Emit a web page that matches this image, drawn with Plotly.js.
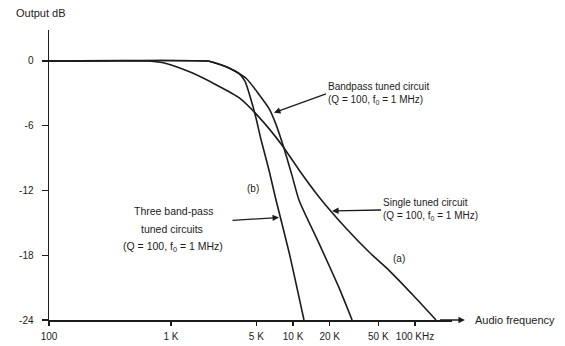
<!DOCTYPE html>
<html>
<head>
<meta charset="utf-8">
<script src="https://cdn.plot.ly/plotly-3.0.1.min.js"></script>
<style>
  html, body { margin: 0; padding: 0; background: #fff; }
  #chart { width: 565px; height: 346px; }
</style>
</head>
<body>
<div id="chart"></div>
<script>
// ---- data (frequency in Hz, output in dB) ----
const singleFreq = [100, 660, 844, 1120, 1486, 2337, 3606, 5260, 8130, 11200, 16330, 27200, 42000, 61200, 98200, 148600];
const singleDb   = [0, 0, -0.15, -0.55, -1.1, -2.2, -3.4, -5.2, -7.8, -10.1, -12.6, -15.5, -17.7, -19.4, -21.8, -24];

const bandpassFreq = [100, 2000, 2168, 2985, 4120, 5260, 6350, 7260, 8440, 9810, 11200, 16330, 23800, 30500];
const bandpassDb   = [0, 0, -0.1, -0.65, -1.6, -3.1, -4.4, -5.9, -8.1, -10.6, -12.9, -16.9, -21.0, -24];

const threeFreq = [100, 2000, 2168, 2985, 3606, 4045, 4446, 4977, 5470, 6350, 7260, 9270, 12300];
const threeDb   = [0, 0, -0.1, -0.65, -1.15, -1.9, -3.3, -5.3, -7.3, -10.1, -12.9, -17.7, -24];

const xTickVals = [100, 1000, 5000, 10000, 20000, 50000, 100000];
const xTickText = ['100', '1 K', '5 K', '10 K', '20 K', '50 K', '100 KHz'];
const yTickVals = [0, -6, -12, -18, -24];
const yTickText = ['0', '-6', '-12', '-18', '-24'];

const ink = '#1c1c1c';
const FONT = 'Liberation Sans, Arial, sans-serif';
const L = Math.log10;

function curve(x, y, name) {
  return { type: 'scatter', mode: 'lines', x: x, y: y, name: name,
           line: { color: ink, width: 1.6, shape: 'spline', smoothing: 0.6 }, hoverinfo: 'skip' };
}

const traces = [
  curve(singleFreq, singleDb, 'Single tuned circuit'),
  curve(bandpassFreq, bandpassDb, 'Bandpass tuned circuit'),
  curve(threeFreq, threeDb, 'Three band-pass tuned circuits')
];

// annotation x on a log axis is given as log10(frequency)
function txt(f, y, text, anchor, size) {
  return { x: L(f), y: y, xref: 'x', yref: 'y', text: text, showarrow: false,
           xanchor: anchor || 'left', yanchor: 'middle',
           font: { family: FONT, size: size || 10, color: ink } };
}
// text label whose arrow starts at the left-middle of the text block
function pointer(f, y, ax, ay, text) {
  return { x: L(f), y: y, xref: 'x', yref: 'y', ax: ax, ay: ay, text: text,
           xanchor: 'left', yanchor: 'middle', align: 'left',
           showarrow: true, arrowhead: 2, arrowsize: 1, arrowwidth: 1.3, arrowcolor: ink,
           font: { family: FONT, size: 10, color: ink } };
}
const q = '(Q = 100, f<sub>0</sub> = 1 MHz)';

const annotations = [
  { xref: 'paper', yref: 'paper', x: -0.088, y: 1.06, xanchor: 'left', yanchor: 'middle',
    text: 'Output dB', showarrow: false, font: { family: FONT, size: 11, color: ink } },
  // Bandpass tuned circuit
  pointer(6980, -4.8, 52, -19, 'Bandpass tuned circuit<br>' + q),
  // Single tuned circuit
  pointer(20900, -13.9, 49, -1, 'Single tuned circuit<br>' + q),
  // Three band-pass tuned circuits
  txt(1040, -13.9, 'Three band-pass', 'center', 10.5),
  txt(1010, -15.6, 'tuned circuits', 'center', 10.5),
  txt(1040, -17.2, q, 'center', 10.5),
  { x: L(7680), y: -14.5, xref: 'x', yref: 'y', ax: -48, ay: 3, text: '',
    showarrow: true, arrowhead: 2, arrowsize: 1, arrowwidth: 1.3, arrowcolor: ink },
  // curve tags
  txt(4700, -11.8, '(b)', 'center'),
  txt(74000, -18.3, '(a)', 'center'),
  // axis title with its arrow (arrowhead drawn on the text side, pointing right)
  { xref: 'paper', yref: 'paper', x: 0.97, y: 0, ax: 33, ay: 0,
    xanchor: 'left', yanchor: 'middle', text: 'Audio frequency',
    showarrow: true, arrowside: 'start', startarrowhead: 2, startarrowsize: 1,
    arrowwidth: 1.3, arrowcolor: ink, startstandoff: 8,
    font: { family: FONT, size: 11, color: ink } }
];

const layout = {
  width: 565, height: 346,
  margin: { l: 49, r: 113, t: 30, b: 26, pad: 0 },
  paper_bgcolor: '#fff', plot_bgcolor: '#fff',
  showlegend: false,
  xaxis: {
    type: 'log', range: [2, 5.303], showgrid: false, zeroline: false,
    showline: true, linecolor: ink, linewidth: 1.5,
    ticks: 'outside', ticklen: 4, tickcolor: ink, tickwidth: 1.2,
    tickvals: xTickVals, ticktext: xTickText, ticklabelstandoff: 2,
    tickfont: { family: FONT, size: 10, color: ink }
  },
  yaxis: {
    range: [-24, 2.87], showgrid: false, zeroline: false,
    showline: true, linecolor: ink, linewidth: 1.5,
    ticks: 'outside', ticklen: 6, tickcolor: ink, tickwidth: 1.2,
    tickvals: yTickVals, ticktext: yTickText, ticklabelstandoff: 6,
    tickfont: { family: FONT, size: 10, color: ink }
  },
  annotations: annotations
};

Plotly.newPlot('chart', traces, layout, { staticPlot: true, displayModeBar: false });
</script>
</body>
</html>
